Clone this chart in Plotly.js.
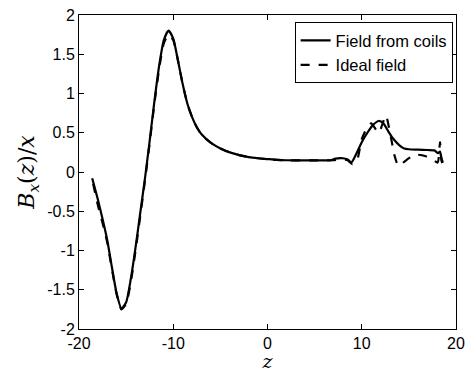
<!DOCTYPE html>
<html>
<head>
<meta charset="utf-8">
<script src="https://cdn.plot.ly/plotly-3.0.1.min.js"></script>
<style>html,body{margin:0;padding:0;background:#fff;}#plot{width:465px;height:372px;}</style>
</head>
<body>
<div id="plot"></div>
<script>
// Field from coils (solid)
var coilsZ = [-18.6,-18,-17.5,-17,-16.5,-16,-15.5,-15,-14.5,-14,-13.5,-13,-12.5,-12,-11.5,-11,-10.5,-10,-9.5,-9,-8.5,-8,-7.5,-7,-6,-5,-4,-3,-2,-1,0,1,2,3,4,5,6,6.7,7.2,8,8.5,8.9,9.3,10,10.6,11.2,11.8,12.3,12.8,13.3,14,14.5,15,16,17,17.7,18.1,18.3,18.45,18.6];
var coilsB = [-0.08,-0.35,-0.6,-0.87,-1.22,-1.55,-1.74,-1.66,-1.36,-0.96,-0.52,-0.08,0.4,0.9,1.35,1.68,1.80,1.70,1.42,1.12,0.87,0.70,0.57,0.48,0.37,0.30,0.25,0.215,0.19,0.175,0.165,0.155,0.15,0.148,0.147,0.147,0.148,0.15,0.17,0.175,0.16,0.12,0.2,0.38,0.50,0.60,0.65,0.62,0.52,0.43,0.34,0.30,0.29,0.285,0.28,0.275,0.24,0.26,0.18,0.12];
// Ideal field (dashed)
var idealZ = [-18.5,-18,-17.5,-17,-16.5,-16,-15.5,-15,-14.5,-14,-13.5,-13,-12.5,-12,-11.5,-11,-10.5,-10,-9.5,-9,-8.5,-8,-7.5,-7,-6,-5,-4,-3,-2,-1,0,1,2,3,4,5,6,7,8,8.5,9,9.5,10,10.5,11.0,11.8,12.55,13,13.5,13.9,14.5,15.2,15.9,16.8,17.5,18.05,18.3,18.45,18.7];
var idealB = [-0.15,-0.42,-0.65,-0.9,-1.24,-1.56,-1.75,-1.68,-1.4,-1.0,-0.56,-0.11,0.37,0.87,1.31,1.64,1.75,1.68,1.42,1.12,0.87,0.70,0.57,0.48,0.37,0.30,0.25,0.215,0.19,0.175,0.165,0.155,0.15,0.148,0.147,0.147,0.148,0.15,0.16,0.15,0.1,0.15,0.42,0.55,0.62,0.50,0.72,0.5,0.2,0.075,0.13,0.19,0.22,0.2,0.16,0.12,0.38,0.15,0.06];

var xTicks = [-20,-10,0,10,20];
var yTicks = [-2,-1.5,-1,-0.5,0,0.5,1,1.5,2];

var traces = [
  {x: coilsZ, y: coilsB, type: 'scatter', mode: 'lines', name: 'Field from coils',
   line: {color: '#000', width: 2.2, shape: 'spline', smoothing: 0.6}},
  {x: idealZ, y: idealB, type: 'scatter', mode: 'lines', name: 'Ideal field',
   line: {color: '#000', width: 2.2, dash: 'dash', shape: 'spline', smoothing: 0.6}}
];

var axisCommon = {
  showgrid: false, zeroline: false, showline: true, linecolor: '#000', linewidth: 1,
  mirror: 'allticks', ticks: 'inside', ticklen: 5, tickcolor: '#000',
  tickfont: {family: 'Liberation Sans, Arial, sans-serif', size: 16, color: '#000'}
};

var layout = {
  width: 465, height: 372,
  margin: {l: 79, r: 9, t: 15, b: 43},
  paper_bgcolor: '#fff', plot_bgcolor: '#fff',
  showlegend: true,
  legend: {x: 0.991, y: 0.977, xanchor: 'right', yanchor: 'top',
    bordercolor: '#000', borderwidth: 1, bgcolor: '#fff',
    font: {family: 'Liberation Sans, Arial, sans-serif', size: 16.5, color: '#000'},
    tracegroupgap: 0},
  xaxis: Object.assign({}, axisCommon, {
    range: [-20, 20], tickvals: xTicks, ticktext: xTicks.map(String),
    title: {text: '<i>z</i>', font: {family: 'DejaVu Serif, serif', size: 19, color: '#000'}, standoff: 8}
  }),
  yaxis: Object.assign({}, axisCommon, {
    range: [-2, 2], tickvals: yTicks, ticktext: yTicks.map(String),
    title: {text: '<i>B<sub>x</sub></i>(<i>z</i>)/<i>x</i>', font: {family: 'DejaVu Serif, serif', size: 22, color: '#000'}, standoff: 6}
  })
};

Plotly.newPlot('plot', traces, layout, {staticPlot: true, displayModeBar: false});
</script>
</body>
</html>
